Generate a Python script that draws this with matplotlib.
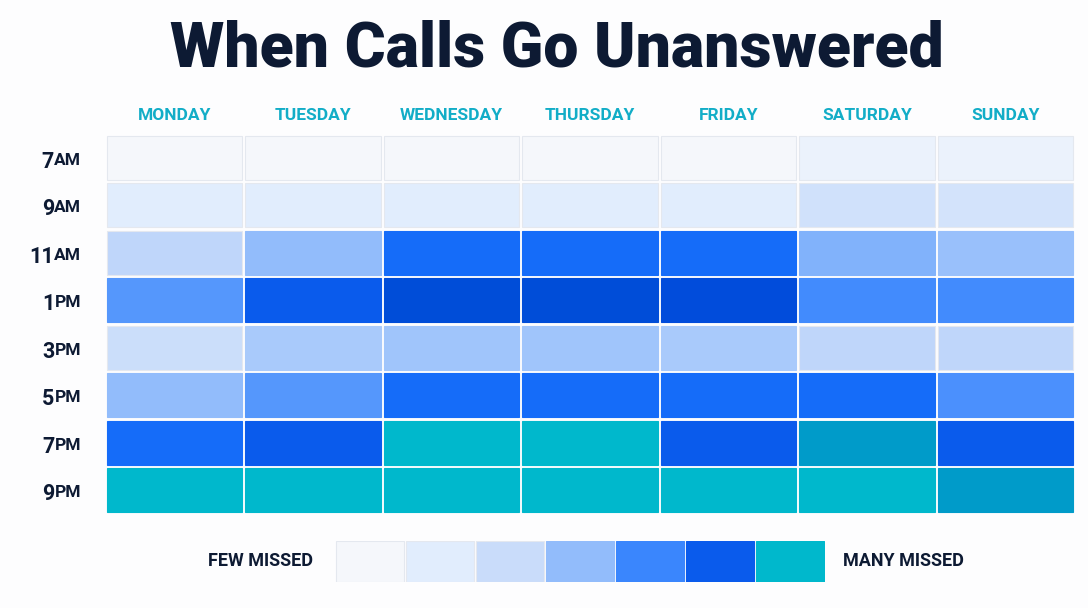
import matplotlib
matplotlib.use("Agg")
import matplotlib.pyplot as plt
from matplotlib.colors import LinearSegmentedColormap, Normalize
from matplotlib.patches import Rectangle

# data
days = ["MONDAY", "TUESDAY", "WEDNESDAY", "THURSDAY", "FRIDAY", "SATURDAY", "SUNDAY"]
hours = ["7", "9", "11", "1", "3", "5", "7", "9"]
meridiem = ["AM", "AM", "AM", "PM", "PM", "PM", "PM", "PM"]

# missed-call level per slot (0 = few, 6 = many)
row_7am = [0.0, 0.0, 0.0, 0.0, 0.0, 0.5, 0.5]
row_9am = [1.0, 1.0, 1.0, 1.0, 1.0, 1.7, 1.6]
row_11am = [2.2, 3.0, 4.6, 4.6, 4.6, 3.2, 2.9]
row_1pm = [3.7, 5.0, 5.4, 5.4, 5.35, 3.9, 3.9]
row_3pm = [1.9, 2.6, 2.75, 2.75, 2.6, 2.2, 2.2]
row_5pm = [3.0, 3.7, 4.6, 4.6, 4.6, 4.6, 3.8]
row_7pm = [4.6, 5.0, 6.0, 6.0, 5.0, 5.7, 5.0]
row_9pm = [6.0, 6.0, 6.0, 6.0, 6.0, 6.0, 5.7]
grid = [row_7am, row_9am, row_11am, row_1pm, row_3pm, row_5pm, row_7pm, row_9pm]

legend_levels = [0, 1, 2, 3, 4, 5, 6]

NAVY = "#0d1a33"
TEAL_TXT = "#12adc7"

stops = [(0.0, "#f5f7fb"), (1.0, "#e1edfd"), (2.0, "#c9dcfa"), (3.0, "#93bdfb"),
         (4.0, "#3a86fd"), (4.6, "#156cf9"), (5.0, "#0a5ced"), (5.4, "#004ad9"),
         (5.7, "#0099c9"), (6.0, "#00b8cc")]
cmap = LinearSegmentedColormap.from_list("missed", [(v / 6.0, c) for v, c in stops])
norm = Normalize(0, 6)

plt.rcParams["font.family"] = ["Roboto", "DejaVu Sans"]

fig = plt.figure(figsize=(10.88, 6.08), dpi=100)
fig.patch.set_facecolor("#fdfdfe")

fig.text(0.512, 0.918, "When Calls Go Unanswered", ha="center", va="center",
         fontsize=45, fontweight="black", color=NAVY)

# heatmap
ax = fig.add_axes([105 / 1088, 1 - 514 / 608, 970 / 1088, 380 / 608])
ax.set_xlim(0, 7)
ax.set_ylim(8, 0)
ax.axis("off")
gx, gy = 0.011, 0.032
for i, row in enumerate(grid):
    for j, v in enumerate(row):
        ec = "#e4e8ef" if v < 2.5 else cmap(norm(v))
        ax.add_patch(Rectangle((j + gx, i + gy), 1 - 2 * gx, 1 - 2 * gy,
                               facecolor=cmap(norm(v)), edgecolor=ec, linewidth=0.8))

for j, d in enumerate(days):
    ax.text(j + 0.5, -0.4, d, ha="center", va="center", fontsize=12.5,
            fontweight="bold", color=TEAL_TXT)

for i in range(len(hours)):
    am = ax.annotate(meridiem[i], xy=(-24 / 139, i + 0.5), ha="right", va="baseline",
                     fontsize=12.5, fontweight="bold", color=NAVY,
                     xytext=(0, -5), textcoords="offset points", annotation_clip=False)
    ax.annotate(hours[i], xy=(0, 0), xycoords=am, ha="right", va="baseline",
                fontsize=15.5, fontweight="bold", color=NAVY, annotation_clip=False)

# legend strip
lax = fig.add_axes([335 / 1088, 1 - 582 / 608, 490 / 1088, 41 / 608])
lax.set_xlim(0, 7)
lax.set_ylim(0, 1)
lax.axis("off")
for k, lv in enumerate(legend_levels):
    ec = "#e4e8ef" if lv < 2.5 else cmap(norm(lv))
    lax.add_patch(Rectangle((k + 0.02, 0.0), 0.96, 1.0, facecolor=cmap(norm(lv)),
                            edgecolor=ec, linewidth=0.8))
lax.text(-0.31, 0.5, "FEW MISSED", ha="right", va="center", fontsize=13,
         fontweight="bold", color=NAVY)
lax.text(7.26, 0.5, "MANY MISSED", ha="left", va="center", fontsize=13,
         fontweight="bold", color=NAVY)

fig.savefig("out.png", dpi=100, facecolor=fig.get_facecolor())
